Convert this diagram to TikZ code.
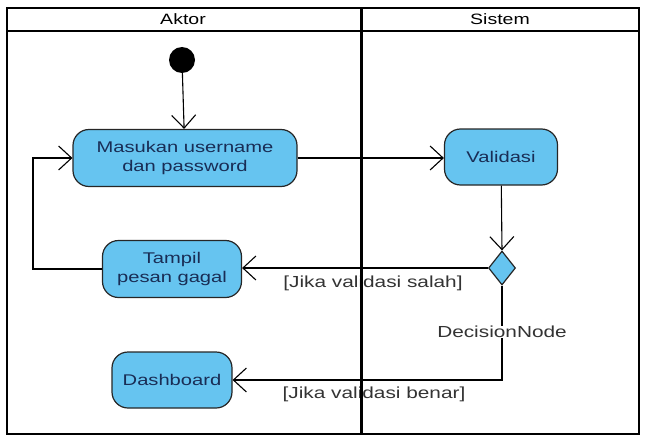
\documentclass[tikz,border=0pt]{standalone}
\usepackage{fontspec}
\setmainfont[FakeStretch=1.3]{Liberation Sans}
\usetikzlibrary{arrows.meta,shapes.geometric}
\definecolor{actfill}{RGB}{102,196,240}
\definecolor{acttext}{RGB}{25,45,85}
\tikzset{
  act/.style={draw=black!85,line width=1.2pt,fill=actfill,rounded corners=16pt,align=center,
    font=\fontsize{15.5}{19}\selectfont,text=acttext,inner sep=0pt},
  flow/.style={line width=1.1pt,-{Straight Barb[length=13pt,width=24pt,line width=1.1pt]}},
  lbl/.style={font=\fontsize{16}{18}\selectfont,text=black!80,inner sep=1pt},
  frame/.style={line width=2pt,black}
}
\begin{document}
\begin{tikzpicture}[x=1pt,y=-1pt]
\useasboundingbox (0,0) rectangle (645,436);
% swimlane frame
\draw[frame] (7,8) rectangle (639,434);
\draw[frame] (7,31) -- (639,31);
\node[font=\fontsize{15}{16}\selectfont] (hA) at (183,19.5) {Aktor};
\node[font=\fontsize{15}{16}\selectfont] (hS) at (500,19.5) {Sistem};
% nodes
\node[circle,fill=black,minimum size=26pt,inner sep=0pt] (init) at (182,60) {};
\node[act,minimum width=224pt,minimum height=57pt] (mas) at (185,158) {Masukan username\\dan password};
\node[act,minimum width=113pt,minimum height=56pt] (val) at (501,157) {Validasi};
\node[diamond,draw=black!85,line width=1.2pt,fill=actfill,minimum width=27pt,minimum height=34pt,inner sep=0pt] (dec) at (502,268) {};
\node[act,minimum width=139pt,minimum height=57pt] (tam) at (172,269) {Tampil\\pesan gagal};
\node[act,minimum width=120pt,minimum height=56pt] (das) at (172,380) {Dashboard};
\coordinate (loopB) at (33,269);
\coordinate (loopT) at (33,158);
\coordinate (decB) at (502,380);
% connectors
\draw[flow] (init) -- (mas);
\draw[flow] (mas.east) -- (mas.east -| val.west);
\draw[flow] (val) -- (dec.north);
\draw[flow] (dec.west) -- (dec.west -| tam.east);
\draw[flow] (tam.west) -- (loopB) -- (loopT) -- (mas.west);
\draw[flow] (dec.south) -- (decB) -- (decB -| das.east);
% labels
\node[lbl] (ls) at (373,283) {[Jika validasi salah]};
\node[lbl] (lb) at (374,394) {[Jika validasi benar]};
\node[lbl,fill=white,inner sep=0pt] (dn) at (502,332) {DecisionNode};
% lane divider
\draw[line width=3pt] (361,8) -- (361,434);
\end{tikzpicture}
\end{document}
